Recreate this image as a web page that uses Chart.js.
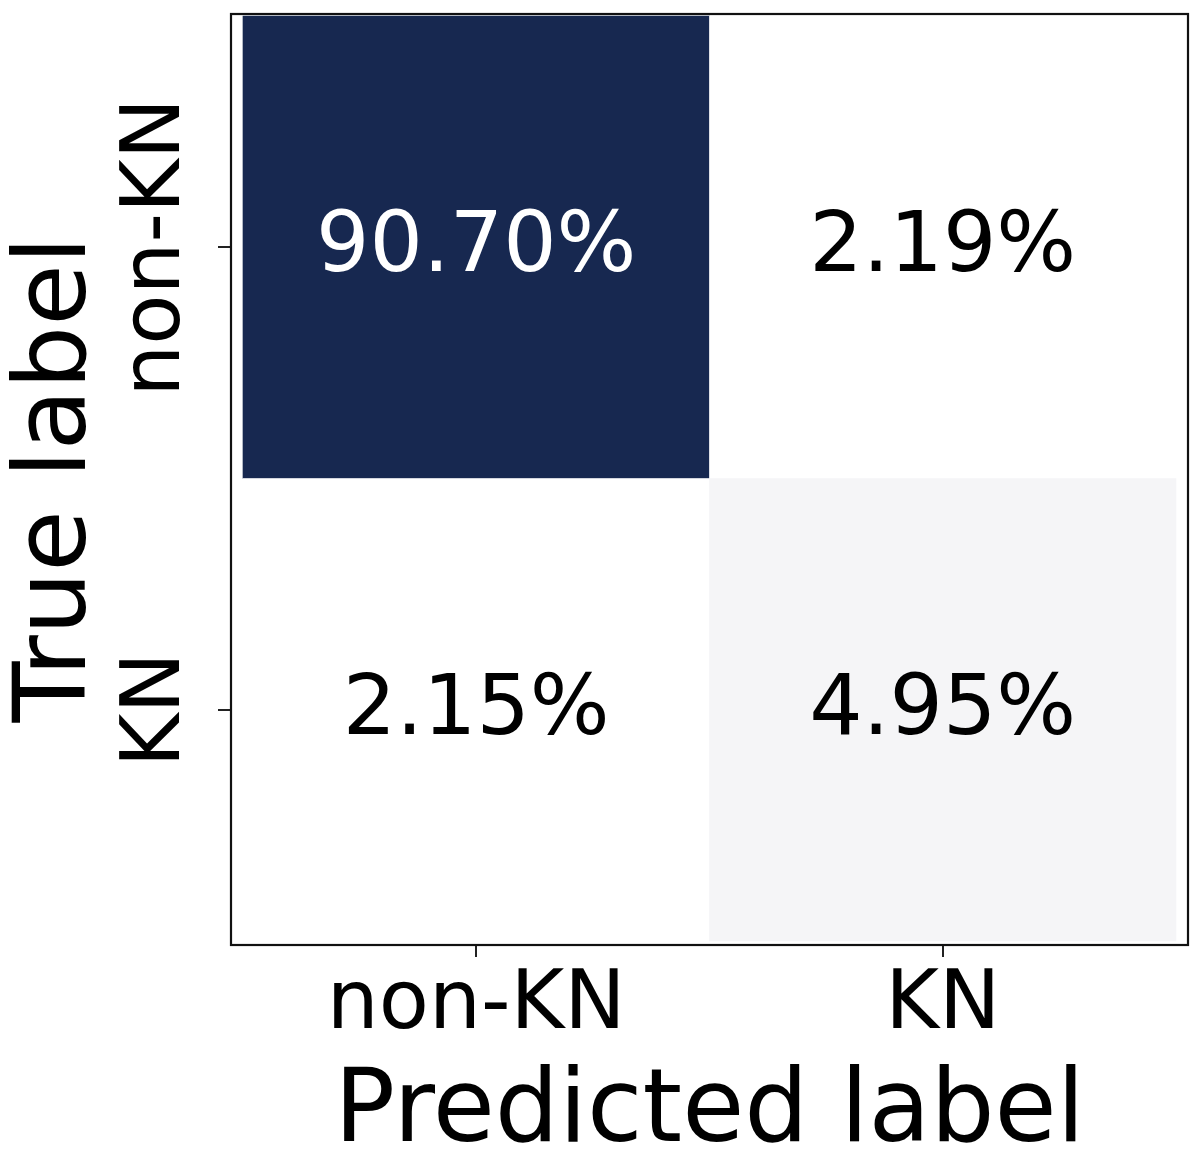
<!DOCTYPE html>
<html>
<head>
<meta charset="utf-8">
<script src="https://cdn.jsdelivr.net/npm/chart.js@4/dist/chart.umd.min.js"></script>
<style>
  html, body { margin: 0; padding: 0; background: #ffffff; }
  #wrap { width: 1200px; height: 1157px; position: relative; }
</style>
</head>
<body>
<div id="wrap"><canvas id="c"></canvas></div>
<script>
// ---- data ----
const predictedLabels = ['non-KN', 'KN'];
const trueLabels = ['non-KN', 'KN'];
const rowNonKN = [90.70, 2.19];   // true non-KN
const rowKN = [2.15, 4.95];       // true KN
const rows = [rowNonKN, rowKN];
const xTitle = 'Predicted label';
const yTitle = 'True label';

// ---- styling ----
const FONT = 'DejaVu Sans';
const HIGH = [23, 40, 80];
const LOW = [255, 255, 255];
const allVals = rows.flat();
const vmin = Math.min(...allVals), vmax = Math.max(...allVals);
function cellColor(v) {
  const t = Math.pow((v - vmin) / (vmax - vmin), 0.9);
  const c = LOW.map((l, i) => Math.round(l + (HIGH[i] - l) * t));
  return `rgb(${c[0]},${c[1]},${c[2]})`;
}

const cells = [];
rows.forEach((vals, r) => vals.forEach((v, c) => cells.push({ x: c, y: [r - 0.5, r + 0.5], v })));

// measure widest y tick label for placing rotated labels
const mctx = document.createElement('canvas').getContext('2d');
const TICK_SIZE = 82;
mctx.font = `${TICK_SIZE}px "${FONT}"`;
const widestY = Math.max(...trueLabels.map(l => mctx.measureText(l).width));
const yTickLen = 13;
const yLabelCenter = 158;
const chartLeft = 231;

const cellText = {
  id: 'cellText',
  afterDatasetsDraw(chart) {
    const { ctx } = chart;
    const meta = chart.getDatasetMeta(0);
    ctx.save();
    ctx.font = `84px "${FONT}"`;
    ctx.textAlign = 'center';
    ctx.textBaseline = 'alphabetic';
    meta.data.forEach((el, i) => {
      const d = cells[i];
      const p = el.getCenterPoint();
      ctx.fillStyle = d.v > vmax / 2 ? '#ffffff' : '#000000';
      ctx.fillText(d.v.toFixed(2) + '%', p.x, p.y + 24);
    });
    ctx.restore();
  }
};

const frame = {
  id: 'frame',
  afterDraw(chart) {
    const { ctx, chartArea: a } = chart;
    ctx.save();
    ctx.strokeStyle = '#111';
    ctx.lineWidth = 2.2;
    ctx.strokeRect(a.left, a.top, a.right - a.left, a.bottom - a.top);
    ctx.restore();
  }
};

new Chart(document.getElementById('c'), {
  type: 'bar',
  data: {
    datasets: [{
      data: cells,
      backgroundColor: cells.map(d => cellColor(d.v)),
      borderWidth: 0,
      barPercentage: 1,
      categoryPercentage: 1
    }]
  },
  options: {
    responsive: true,
    maintainAspectRatio: false,
    animation: false,
    events: [],
    layout: { padding: { top: 14, right: 12, left: 0, bottom: 0 } },
    plugins: { legend: { display: false }, tooltip: { enabled: false } },
    scales: {
      x: {
        type: 'linear',
        offset: false,
        min: -0.5 - 12 / 466.5,
        max: 1.5 + 12 / 466.5,
        afterBuildTicks: s => { s.ticks = predictedLabels.map((_, i) => ({ value: i })); },
        afterFit: s => { s.height = 212; },
        ticks: {
          callback: v => predictedLabels[v],
          font: { family: FONT, size: TICK_SIZE, lineHeight: 1 },
          color: '#000',
          padding: 9,
          maxRotation: 0, minRotation: 0
        },
        grid: { display: true, offset: false, drawOnChartArea: false, drawTicks: true, tickLength: 12, color: '#222', lineWidth: 2 },
        border: { display: false },
        title: {
          display: true, text: xTitle, color: '#000',
          font: { family: FONT, size: 101, lineHeight: 1 },
          padding: { top: 0, bottom: -8 }
        }
      },
      y: {
        type: 'linear',
        reverse: true,
        min: -0.5 - 2 / 462.5,
        max: 1.5 + 4 / 462.5,
        afterBuildTicks: s => { s.ticks = trueLabels.map((_, i) => ({ value: i })); },
        afterFit: s => { s.width = chartLeft; },
        ticks: {
          callback: v => trueLabels[v],
          font: { family: FONT, size: TICK_SIZE, lineHeight: 1 },
          color: '#000',
          minRotation: 90, maxRotation: 90,
          crossAlign: 'center',
          padding: chartLeft - yTickLen - yLabelCenter - widestY / 2
        },
        grid: { display: true, drawOnChartArea: false, drawTicks: true, tickLength: yTickLen, color: '#222', lineWidth: 2 },
        border: { display: false },
        title: {
          display: true, text: yTitle, color: '#000',
          font: { family: FONT, size: 100, lineHeight: 1 },
          padding: { top: 9, bottom: 0 }
        }
      }
    }
  },
  plugins: [cellText, frame]
});
</script>
</body>
</html>
